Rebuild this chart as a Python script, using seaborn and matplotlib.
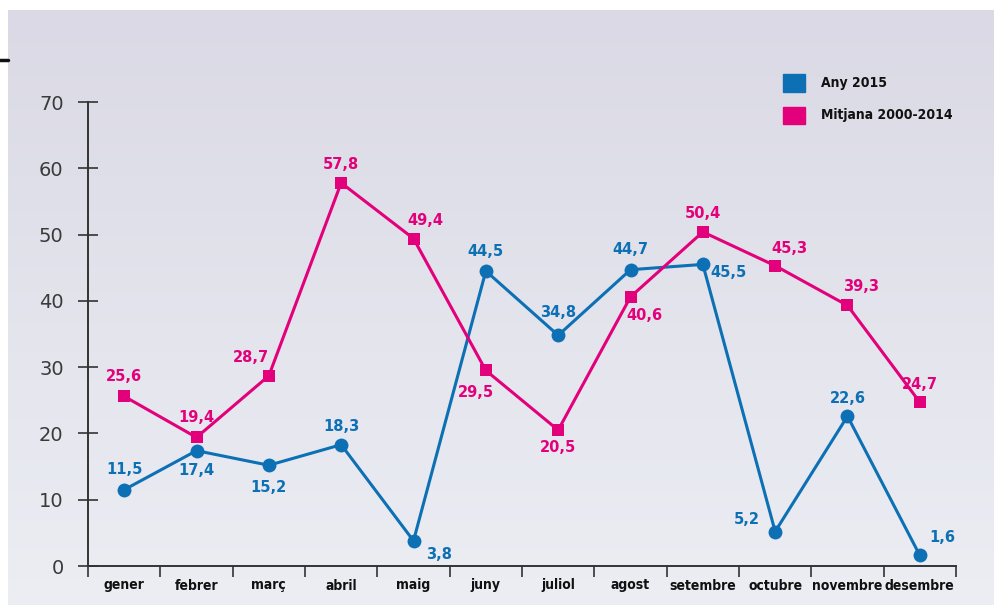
import numpy as np
import pandas as pd
import matplotlib
matplotlib.use('Agg')
import matplotlib.pyplot as plt
import matplotlib.font_manager as fm
import seaborn as sns

mesos = ['gener', 'febrer', 'març', 'abril', 'maig', 'juny', 'juliol',
         'agost', 'setembre', 'octubre', 'novembre', 'desembre']
any_2015 = [11.5, 17.4, 15.2, 18.3, 3.8, 44.5, 34.8, 44.7, 45.5, 5.2, 22.6, 1.6]
mitjana = [25.6, 19.4, 28.7, 57.8, 49.4, 29.5, 20.5, 40.6, 50.4, 45.3, 39.3, 24.7]
series_names = ['Any 2015', 'Mitjana 2000-2014']
y_ticks = [0, 10, 20, 30, 40, 50, 60, 70]

# label offsets in pixels (dx, dy) per point
off_2015 = [(0, 20), (0, -20), (0, -22), (0, 18), (26, -14), (0, 20),
            (0, 23), (0, 20), (26, -8), (-28, 12), (0, 18), (22, 18)]
off_mitj = [(0, 20), (0, 20), (-18, 18), (0, 18), (12, 18), (-10, -22),
            (0, -17), (14, -19), (0, 18), (14, 17), (14, 19), (0, 18)]

blue = '#0d70b4'
pink = '#e3007b'

df = pd.DataFrame({
    'mes': list(range(12)) * 2,
    'valor': any_2015 + mitjana,
    'serie': [series_names[0]] * 12 + [series_names[1]] * 12,
})

sns.set_style('white')
plt.rcParams['font.family'] = ['DejaVu Sans']

# look for a narrow bold face for month names / legend
narrow = None
for f in fm.fontManager.ttflist:
    n = f.name.lower()
    if ('narrow' in n or 'condensed' in n or 'condensed' in str(f.stretch)) and f.weight in (700, 'bold'):
        narrow = fm.FontProperties(fname=f.fname)
        break
if narrow is None:
    for f in fm.fontManager.ttflist:
        if 'narrow' in f.name.lower() or 'condensed' in f.name.lower() or 'condensed' in str(f.stretch):
            narrow = fm.FontProperties(fname=f.fname)
            break
cond_scale = 1.0
if narrow is None:
    narrow = fm.FontProperties(family='DejaVu Sans', weight='bold')
    cond_scale = 0.92

fig = plt.figure(figsize=(9.94, 6.05), dpi=100)
fig.patch.set_facecolor('white')

# background panel (sky-like gradient)
bg = fig.add_axes([8 / 994, 0, 1 - 8 / 994, 1 - 10 / 605])
grad = np.linspace(0, 1, 256).reshape(-1, 1)
top = np.array([0.855, 0.851, 0.898])
bot = np.array([0.925, 0.933, 0.955])
img = top + (bot - top) * grad[..., None]
bg.imshow(img, aspect='auto', extent=[0, 1, 0, 1], origin='upper')
bg.set_axis_off()
fig.add_artist(plt.Line2D([0, 8 / 994], [1 - 60 / 605] * 2, color='#111111', lw=2.5))

ax = fig.add_axes([88 / 994, 39 / 605, (956 - 88) / 994, (566 - 102) / 605])
ax.patch.set_alpha(0)

sns.lineplot(data=df, x='mes', y='valor', hue='serie', style='serie',
             palette=[blue, pink], markers=['o', 's'], dashes=False,
             markersize=10, markeredgewidth=0, linewidth=2.2,
             legend=False, ax=ax)
for ln in ax.lines:
    ln.set_clip_on(False)
ax.lines[1].set_markersize(8.5)

for vals, offs, col in [(any_2015, off_2015, blue), (mitjana, off_mitj, pink)]:
    for i, (v, (dx, dy)) in enumerate(zip(vals, offs)):
        ax.annotate(f'{v:.1f}'.replace('.', ','), (i, v), xytext=(dx * 0.72, dy * 0.72),
                    textcoords='offset points', ha='center', va='center',
                    color=col, fontsize=10.5, fontweight='bold')

ax.set_xlim(-0.5, 11.5)
ax.set_ylim(0, 70)
ax.set_xlabel('')
ax.set_ylabel('')
ax.set_yticks(y_ticks)
ax.set_yticklabels([str(t) for t in y_ticks], fontsize=14, color='#3a3a3a')
ax.tick_params(axis='y', left=True, direction='inout', length=15, width=1.2,
               color='#333333', pad=10)

ax.set_xticks(range(12))
ax.set_xticklabels(mesos, fontproperties=narrow, fontsize=10 * cond_scale, color='#111111')
ax.set_xticks(np.arange(-0.5, 12, 1), minor=True)
ax.tick_params(axis='x', which='major', bottom=False, length=0, pad=9)
ax.tick_params(axis='x', which='minor', bottom=True, direction='out', length=8,
               width=1.2, color='#333333')

for s in ['top', 'right']:
    ax.spines[s].set_visible(False)
for s in ['left', 'bottom']:
    ax.spines[s].set_color('#333333')
    ax.spines[s].set_linewidth(1.4)

# legend
for k, (name, col) in enumerate(zip(series_names, [blue, pink])):
    y = 1 - (83 + k * 32) / 605
    fig.patches.append(plt.Rectangle((783 / 994, y - 8.5 / 605), 22 / 994, 17 / 605,
                                     transform=fig.transFigure, color=col))
    fig.text(821 / 994, y, name, fontproperties=narrow, fontsize=10 * cond_scale,
             color='#111111', va='center', ha='left')

fig.savefig('out.png', dpi=100)
